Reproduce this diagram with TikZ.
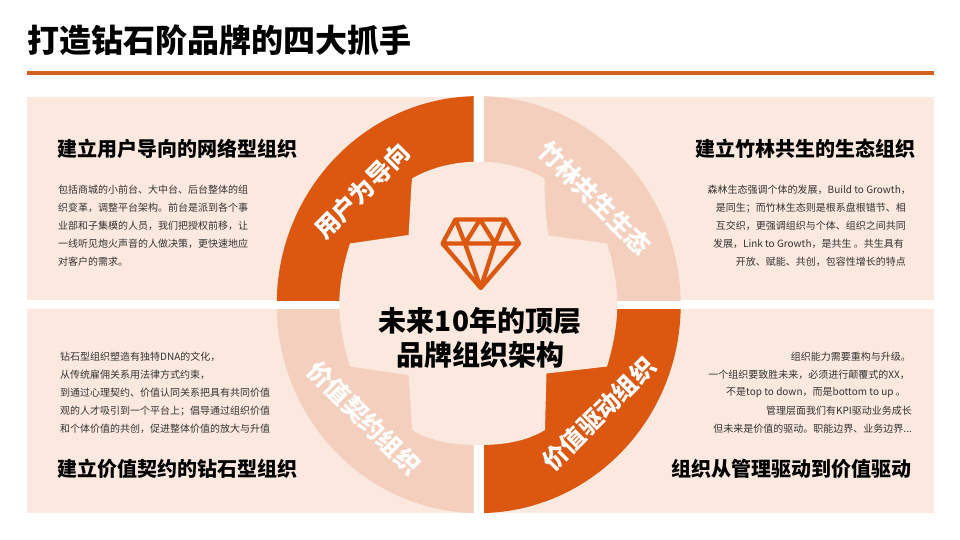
\documentclass[tikz,border=0pt]{standalone}
\usepackage{fontspec}
\setmainfont{Noto Sans CJK SC}
\definecolor{brandorange}{HTML}{DC5710}
\definecolor{ruleorange}{HTML}{D2601F}
\definecolor{panelbg}{HTML}{FBE9E0}
\definecolor{lightseg}{HTML}{F4CFBD}
\definecolor{bodytext}{HTML}{333333}
\tikzset{
  panel/.style={fill=panelbg,draw=none},
  titletext/.style={anchor=west,inner sep=0pt,font=\bfseries\fontsize{32}{36}\selectfont,text=black},
  headleft/.style={anchor=west,inner sep=0pt,font=\bfseries\fontsize{20}{24}\selectfont,text=black},
  headright/.style={anchor=east,inner sep=0pt,font=\bfseries\fontsize{20}{24}\selectfont,text=black},
  bodyleft/.style={anchor=west,inner sep=0pt,font=\fontsize{10}{12}\selectfont,text=bodytext},
  bodyright/.style={anchor=east,inner sep=0pt,font=\fontsize{10}{12}\selectfont,text=bodytext},
  ringtext/.style={inner sep=0pt,text=white,font=\bfseries\fontsize{24.5}{30}\selectfont},
  centertext/.style={inner sep=0pt,text=black,font=\bfseries\fontsize{28}{34}\selectfont,align=center},
}
\begin{document}
\begin{tikzpicture}[x=1pt,y=-1pt]
\useasboundingbox (0,0) rectangle (960,540);
\fill[white] (0,0) rectangle (960,540);
% title
\node[titletext] (title) at (27,40.5) {打造钻石阶品牌的四大抓手};
\fill[ruleorange] (27,71) rectangle (934,75);
% panels
\fill[panel] (27,97) rectangle (473.5,300);
\fill[panel] (484,97) rectangle (934,300);
\fill[panel] (27,309) rectangle (473.5,513);
\fill[panel] (484,309) rectangle (934,513);
% quadrants
\begin{scope}\clip (270,90) rectangle (473.5,300);
\fill[brandorange] (478.7,304.6) ellipse [x radius=202pt,y radius=208.5pt];\end{scope}
\begin{scope}\clip (484,90) rectangle (690,300);
\fill[lightseg] (478.7,304.6) ellipse [x radius=202pt,y radius=208.5pt];\end{scope}
\begin{scope}\clip (270,309) rectangle (473.5,520);
\fill[lightseg] (478.7,304.6) ellipse [x radius=202pt,y radius=208.5pt];\end{scope}
\begin{scope}\clip (484,309) rectangle (690,520);
\fill[brandorange] (478.7,304.6) ellipse [x radius=202pt,y radius=208.5pt];\end{scope}
% central plus
\fill[panelbg] (412,178.5)
  .. controls (432,167) and (455,161.7) .. (478.5,161.7)
  .. controls (502,161.7) and (525,167) .. (544.5,178.5)
  .. controls (544.5,200) and (546,220) .. (548.5,235.5)
  -- (607,243.5)
  .. controls (613,262) and (617.3,283) .. (617.3,304.6)
  .. controls (617.3,325) and (613,347) .. (607,366.5)
  -- (546.5,373.5)
  .. controls (546,390) and (545.5,410) .. (545,430)
  .. controls (525,442) and (502,445) .. (478.5,445)
  .. controls (455,445) and (432,442) .. (412,430)
  .. controls (411,410) and (409.5,390) .. (408.5,375)
  -- (350,366.5)
  .. controls (344,347) and (339.3,325) .. (339.3,304.6)
  .. controls (339.3,283) and (344,262) .. (350,243.5)
  -- (408.5,235)
  .. controls (410,215) and (410.5,195) .. (412,178.5) -- cycle;
% diamond
\draw[brandorange,line width=4.3pt,line join=round]
  (455.5,219.5) -- (505.5,219.5) -- (519,243.5) -- (480.7,288) -- (442.5,243.5) -- cycle
  (442.5,243.5) -- (519,243.5)
  (455.5,219.5) -- (465,243.5) -- (480,219.5) -- (495,243.5) -- (505.5,219.5)
  (465,243.5) -- (480.7,288) -- (495,243.5);
% centre label
\node[centertext] (core) at (480,338) {未来10年的顶层\\品牌组织架构};
% ring labels
\node[ringtext,rotate=45] (r1) at (362,191) {用户为导向};
\node[ringtext,rotate=-45] (r2) at (595,198) {竹林共生生态};
\node[ringtext,rotate=-45] (r3) at (364,418) {价值契约组织};
\node[ringtext,rotate=45] (r4) at (599,414) {价值驱动组织};
% top-left
\node[headleft] (h1) at (57,148.5) {建立用户导向的网络型组织};
\node[bodyleft] (a1) at (58,190) {包括商城的小前台、大中台、后台整体的组};
\node[bodyleft] (a2) at (58,208) {织变革，调整平台架构。前台是派到各个事};
\node[bodyleft] (a3) at (58,226) {业部和子集模的人员，我们把授权前移，让};
\node[bodyleft] (a4) at (58,244) {一线听见炮火声音的人做决策，更快速地应};
\node[bodyleft] (a5) at (58,262) {对客户的需求。};
% top-right
\node[headright] (h2) at (916,148.5) {建立竹林共生的生态组织};
\node[bodyright] (b1) at (911,190) {森林生态强调个体的发展，Build to Growth，};
\node[bodyright] (b2) at (906,208) {是同生；而竹林生态则是根系盘根错节、相};
\node[bodyright] (b3) at (906,226) {互交织，更强调组织与个体、组织之间共同};
\node[bodyright] (b4) at (904,244) {发展，Link to Growth，是共生 。共生具有};
\node[bodyright] (b5) at (906,262) {开放、赋能、共创，包容性增长的特点};
% bottom-left
\node[bodyleft] (c1) at (60,357) {钻石型组织塑造有独特DNA的文化，};
\node[bodyleft] (c2) at (60,375) {从传统雇佣关系用法律方式约束，};
\node[bodyleft] (c3) at (60,393) {到通过心理契约、价值认同关系把具有共同价值};
\node[bodyleft] (c4) at (60,411) {观的人才吸引到一个平台上；倡导通过组织价值};
\node[bodyleft] (c5) at (60,429) {和个体价值的共创，促进整体价值的放大与升值};
\node[headleft] (h3) at (57,468.5) {建立价值契约的钻石型组织};
% bottom-right
\node[bodyright] (d1) at (911,357) {组织能力需要重构与升级。};
\node[bodyright] (d2) at (910,375) {一个组织要致胜未来，必须进行颠覆式的XX，};
\node[bodyright] (d3) at (906,393) {不是top to down，而是bottom to up 。};
\node[bodyright] (d4) at (912,411) {管理层面我们有KPI驱动业务成长};
\node[bodyright] (d5) at (912,429) {但未来是价值的驱动。职能边界、业务边界...};
\node[headright] (h4) at (911.5,468.5) {组织从管理驱动到价值驱动};
\end{tikzpicture}
\end{document}
